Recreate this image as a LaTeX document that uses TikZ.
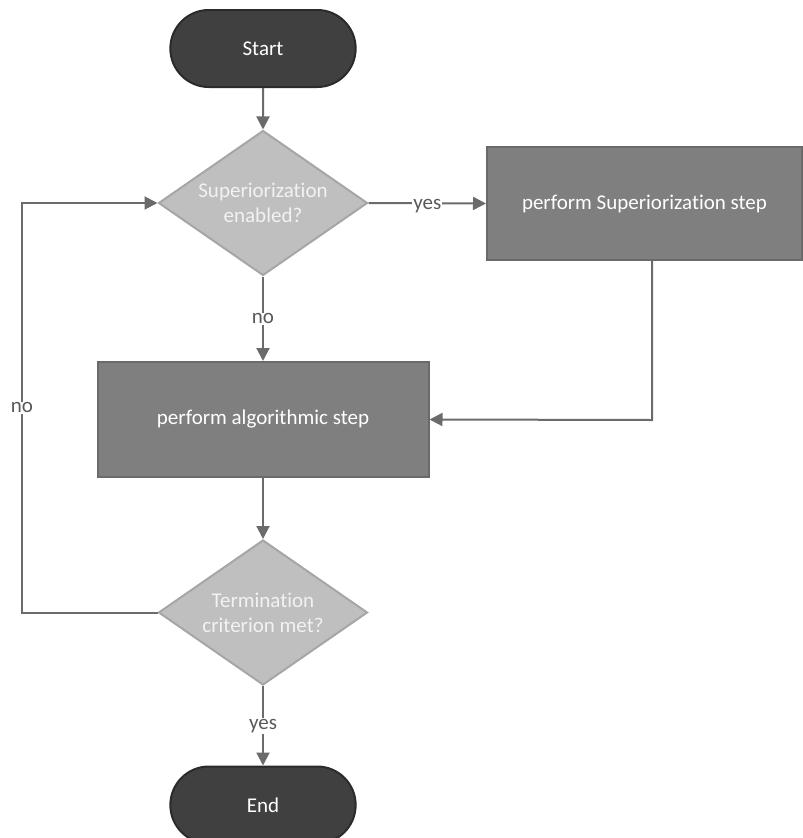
\documentclass[tikz,border=0pt]{standalone}
\usepackage{fontspec}
\setmainfont[Ligatures=CommonOff]{Carlito}
\usetikzlibrary{shapes.geometric,shapes.misc,arrows.meta}
\definecolor{termfill}{HTML}{404040}
\definecolor{termdraw}{HTML}{2B2B2B}
\definecolor{decfill}{HTML}{BFBFBF}
\definecolor{decdraw}{HTML}{A6A6A6}
\definecolor{procfill}{HTML}{7F7F7F}
\definecolor{procdraw}{HTML}{6A6A6A}
\definecolor{linecol}{HTML}{6B6B6B}
\definecolor{labcol}{HTML}{595959}
\definecolor{dectext}{HTML}{F2F2F2}
\tikzset{
  terminal/.style={rounded rectangle, fill=termfill, draw=termdraw, line width=2pt,
    minimum width=192pt, minimum height=77pt, text=white, font=\fontsize{21}{25}\selectfont},
  decision/.style={diamond, fill=decfill, draw=decdraw, line width=2pt, inner sep=0pt, aspect=1.44,
    minimum width=209pt, minimum height=145pt, text=dectext, align=center,
    font=\fontsize{21}{25}\selectfont},
  process/.style={rectangle, fill=procfill, draw=procdraw, line width=2pt,
    text=white, font=\fontsize{21}{25}\selectfont},
  conn/.style={draw=linecol, line width=2pt, -{Triangle[length=13pt,width=13pt]}},
  lab/.style={fill=white, text=labcol, inner sep=1pt, font=\fontsize{21}{25}\selectfont},
}
\begin{document}
\begin{tikzpicture}[x=1pt,y=-1pt]
\useasboundingbox (0,0) rectangle (803,838);
\node[terminal] (start) at (263,48.5) {Start};
\node[decision] (d1) at (263,203) {Superiorization\\enabled?};
\node[process, minimum width=315pt, minimum height=113pt] (b1) at (644.5,203.5) {perform Superiorization step};
\node[process, minimum width=331pt, minimum height=115pt] (b2) at (263,419.5) {perform algorithmic step};
\node[decision] (d2) at (263,612.5) {Termination\\criterion met?};
\node[terminal] (end) at (263,805) {End};
\coordinate (c1) at (652,420);
\coordinate (c2) at (22,612.5);
\coordinate (c3) at (22,203);
\draw[conn] (start) -- (d1);
\draw[conn] (d1.east) -- node[lab, yshift=-3pt] {yes} (b1.west);
\draw[conn] (d1.south) -- node[lab] {no} (b2.north);
\draw[conn] (b1.south -| c1) -- (c1) -- (b2.east);
\draw[conn] (b2.south) -- (d2.north);
\draw[conn] (d2.west) -- (c2) -- node[lab] {no} (c3) -- (d1.west);
\draw[conn] (d2.south) -- node[lab] {yes} (end.north);
\end{tikzpicture}
\end{document}
